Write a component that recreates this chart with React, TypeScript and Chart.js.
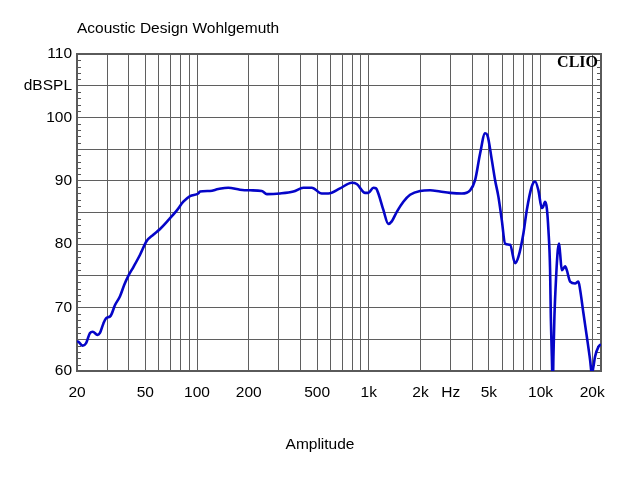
import React, { useEffect, useRef } from 'react';
import { Chart, registerables } from 'chart.js';

Chart.register(...registerables);

const frequencies = [
  20, 20.4, 21.6, 22.6, 23.8, 24.7, 26.3, 27.2, 28.5, 29.5, 31.4, 33.3, 35.6, 37.7, 39.8, 42.6, 46.5,
  50.9, 55.6, 60.9, 68, 76.1, 83.2, 91, 101.7, 104, 119, 133, 152, 178, 204, 238, 255, 304, 364, 416,
  466, 532, 582, 680, 796, 851, 952, 995, 1064, 1103, 1137, 1216, 1300, 1361, 1456, 1590, 1740, 1989,
  2274, 2602, 2975, 3480, 3890, 4160, 4449, 4757, 4906, 5204, 5439, 5685, 5950, 6220, 6650, 7111,
  7433, 7950, 8321, 8896, 9300, 9720, 10174, 10350, 10630, 10880, 11120, 11370, 11480, 11640, 11790,
  11890, 12050, 12330, 12610, 12830, 13000, 13300, 13910, 14230, 14870, 15900, 16620, 17010, 17780,
  18610, 19450, 19890, 20330, 20780, 21730, 22230, 22500,
];

const splValues = [
  64.7, 64.6, 64.0, 64.4, 66.0, 66.2, 65.7, 66.0, 67.5, 68.3, 68.7, 70.4, 71.8, 73.6, 75.0, 76.4, 78.3,
  80.5, 81.5, 82.4, 83.8, 85.3, 86.7, 87.6, 88.0, 88.3, 88.4, 88.7, 88.9, 88.6, 88.5, 88.4, 87.9, 88.0,
  88.3, 88.9, 88.9, 88.0, 88.0, 88.8, 89.7, 89.5, 88.1, 88.1, 88.9, 88.8, 88.0, 85.4, 83.2, 83.6, 85.1,
  86.7, 87.8, 88.4, 88.5, 88.3, 88.1, 88.0, 88.5, 90.1, 94.3, 97.5, 97.2, 93.3, 90.1, 87.5, 83.8, 80.1,
  79.9, 77.0, 78.0, 81.7, 85.4, 89.1, 89.9, 88.5, 85.7, 85.9, 86.7, 85.7, 82.2, 75.9, 68.6, 62.3, 57.0,
  62.3, 68.6, 74.9, 79.1, 80.1, 78.6, 75.9, 76.5, 75.9, 74.1, 73.8, 74.1, 72.8, 69.1, 65.4, 61.7, 59.5,
  60.7, 62.3, 63.8, 64.1, 64.2,
];

const xGridValues = [
  20, 30, 40, 50, 60, 70, 80, 90, 100, 200, 300, 400, 500, 600, 700, 800, 900, 1000, 2000, 3000, 4000,
  5000, 6000, 7000, 8000, 9000, 10000, 20000,
];

const xTickLabels: Record<number, string> = {
  20: '20', 50: '50', 100: '100', 200: '200', 500: '500', 1000: '1k', 2000: '2k', 3000: 'Hz',
  5000: '5k', 10000: '10k', 20000: '20k',
};

const yGridValues = [60, 65, 70, 75, 80, 85, 90, 95, 100, 105, 110];
const yTickLabels: Record<number, string> = {
  60: '60', 70: '70', 80: '80', 90: '90', 100: '100', 105: 'dBSPL', 110: '110',
};

const titleText = 'Acoustic Design Wohlgemuth';
const axisTitleText = 'Amplitude';
const brandText = 'CLIO';

const FONT = "'Liberation Sans', Arial, sans-serif";
const GRID = '#5f5f5f';

export default function App() {
  const ref = useRef<HTMLCanvasElement>(null);

  useEffect(() => {
    const canvas = ref.current;
    if (!canvas) return;

    const framePlugin = {
      id: 'frameAndBrand',
      beforeDatasetsDraw(chart: any) {
        const { ctx, chartArea: a } = chart;
        const y = chart.scales.y;
        ctx.save();
        ctx.strokeStyle = '#555555';
        ctx.lineWidth = 1;
        ctx.beginPath();
        for (let v = 61; v < 110; v++) {
          if (v % 5 === 0) continue;
          const py = Math.round(y.getPixelForValue(v)) + 0.5;
          ctx.moveTo(a.left, py);
          ctx.lineTo(a.left + 4, py);
          ctx.moveTo(a.right - 4, py);
          ctx.lineTo(a.right, py);
        }
        ctx.stroke();
        ctx.lineWidth = 2;
        ctx.strokeStyle = '#5a5a5a';
        ctx.strokeRect(a.left, a.top, a.right - a.left, a.bottom - a.top);
        ctx.restore();
      },
      afterDraw(chart: any) {
        const { ctx, chartArea: a } = chart;
        ctx.save();
        ctx.fillStyle = '#000000';
        ctx.font = "bold 16px 'Liberation Serif', 'Times New Roman', serif";
        ctx.textAlign = 'right';
        ctx.textBaseline = 'alphabetic';
        ctx.fillText(brandText, a.right - 3, a.top + 13);
        ctx.restore();
      },
    };

    const chart = new Chart(canvas, {
      type: 'line',
      data: {
        datasets: [
          {
            data: frequencies.map((f, i) => ({ x: f, y: splValues[i] })),
            borderColor: '#0505c8',
            borderWidth: 2.6,
            pointRadius: 0,
            fill: false,
            cubicInterpolationMode: 'monotone',
          },
        ],
      },
      options: {
        responsive: false,
        animation: false,
        layout: { padding: 0 },
        scales: {
          x: {
            type: 'logarithmic',
            min: 20,
            max: 22500,
            afterBuildTicks: (s: any) => {
              s.ticks = xGridValues.map((v) => ({ value: v }));
            },
            afterFit: (s: any) => {
              s.height = 30;
            },
            ticks: {
              autoSkip: false,
              maxRotation: 0,
              minRotation: 0,
              padding: 12,
              color: '#000000',
              font: { family: FONT, size: 15.5 },
              callback: (v: any) => xTickLabels[Number(v)] ?? '',
            },
            grid: { color: GRID, lineWidth: 1, drawTicks: false },
            border: { display: false },
          },
          y: {
            type: 'linear',
            min: 60,
            max: 110,
            afterBuildTicks: (s: any) => {
              s.ticks = yGridValues.map((v) => ({ value: v }));
            },
            afterFit: (s: any) => {
              s.width = 77;
            },
            ticks: {
              padding: 5,
              color: '#000000',
              font: { family: FONT, size: 15.5 },
              callback: (v: any) => yTickLabels[Number(v)] ?? '',
            },
            grid: { color: GRID, lineWidth: 1, drawTicks: false },
            border: { display: false },
          },
          y2: {
            type: 'linear',
            position: 'right',
            min: 60,
            max: 110,
            ticks: { display: false },
            grid: { display: false, drawTicks: false },
            border: { display: false },
            afterFit: (s: any) => {
              s.width = 39;
            },
          },
        },
        plugins: {
          legend: { display: false },
          tooltip: { enabled: false },
          title: {
            display: true,
            text: titleText,
            align: 'start',
            fullSize: false,
            color: '#000000',
            font: { family: FONT, size: 15.5, weight: 'normal' },
            padding: { top: 19, bottom: 16.4 },
          },
          subtitle: {
            display: true,
            text: axisTitleText,
            position: 'bottom',
            align: 'center',
            fullSize: true,
            color: '#000000',
            font: { family: FONT, size: 15.5, weight: 'normal' },
            padding: { top: 34, bottom: 26.4 },
          },
        },
      },
      plugins: [framePlugin],
    } as any);

    return () => chart.destroy();
  }, []);

  return (
    <div style={{ position: 'fixed', left: 0, top: 0, width: 640, height: 480, background: '#ffffff' }}>
      <canvas ref={ref} width={640} height={480} style={{ display: 'block' }} />
    </div>
  );
}
